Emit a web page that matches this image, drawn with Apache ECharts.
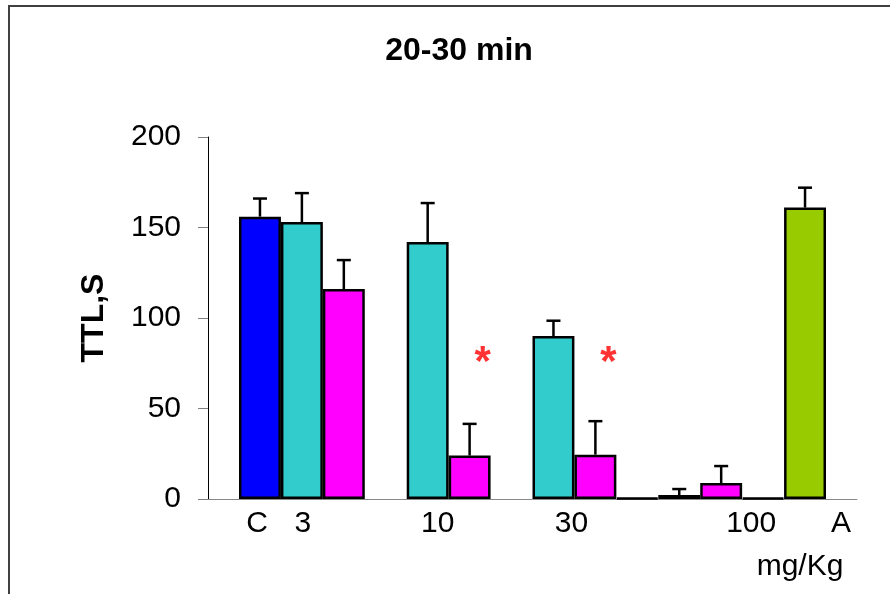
<!DOCTYPE html>
<html>
<head>
<meta charset="utf-8">
<script src="https://cdn.jsdelivr.net/npm/echarts@6/dist/echarts.min.js"></script>
<style>
  html, body { margin: 0; padding: 0; background: #fff; }
  #main { width: 890px; height: 594px; }
</style>
</head>
<body>
<div id="main"></div>
<script>
// 14 bar slots, left to right (empty slots are gaps between dose groups)
const slotGroups = ['control', 'low', 'high', '', 'low', 'high', '', 'low', 'high', 'zero', 'low', 'high', 'zero', 'ref'];
const slotLabels = ['C', '3', '', '', '10', '', '', '30', '', '', '', '100', '', 'A'];
const means = [156, 153, 116, null, 142, 24, null, 90, 24.5, 0.6, 2.2, 8.8, 0.6, 161];
const errors = [10, 16, 16, null, 21.5, 17.5, null, 8.5, 18.5, null, 3.3, 9.4, null, 11];
// significance marks (slot index), value height of the asterisk
const starSlots = [5, 8];
const starValue = 78;
const yTicks = [0, 50, 100, 150, 200];

const groupColors = {
  control: '#0000FF',
  low: '#33CCCC',
  high: '#FF00FF',
  zero: '#000000',
  ref: '#99CC00'
};
// label shift (px) so the dose names sit where the original has them
const labelShift = { 'C': -3, '3': 1, '10': 10, '30': 18, '100': 30, 'A': 36 };

const FONT = 'Liberation Sans, Arial, sans-serif';
const chart = echarts.init(document.getElementById('main'));

// label rich styles: padding on one side shifts centered text
const rich = {};
slotLabels.forEach((l, i) => {
  if (!l) return;
  const s = labelShift[l] || 0;
  rich['l' + i] = {
    fontSize: 30, fontFamily: FONT, color: '#000',
    padding: s >= 0 ? [0, 0, 0, 2 * s] : [0, -2 * s, 0, 0]
  };
});

const barData = means.map((v, i) => ({
  value: v,
  itemStyle: { color: groupColors[slotGroups[i]] || '#fff' }
}));

const errData = [];
means.forEach((v, i) => {
  if (v != null && errors[i] != null) errData.push([i, v, v + errors[i]]);
});

const option = {
  animation: false,
  backgroundColor: '#fff',
  textStyle: { fontFamily: FONT },
  title: {
    text: '20-30 min',
    left: 454,
    top: 30,
    textAlign: 'center',
    textStyle: { fontSize: 32, fontWeight: 'bold', color: '#000', fontFamily: FONT }
  },
  grid: [
    { left: 208, right: 33, top: 137, bottom: 95 },
    { left: 239, right: 64, top: 137, bottom: 95 }
  ],
  xAxis: [
    {
      gridIndex: 0, type: 'value', min: 0, max: 1,
      axisLine: { lineStyle: { color: '#888', width: 1 } },
      axisTick: { show: false }, axisLabel: { show: false }, splitLine: { show: false }
    },
    {
      gridIndex: 1, type: 'category', data: slotLabels.map((l, i) => 's' + i),
      boundaryGap: true,
      axisLine: { show: false }, axisTick: { show: false },
      axisLabel: {
        interval: 0, margin: 10,
        formatter: (val, i) => slotLabels[i] ? '{l' + i + '|' + slotLabels[i] + '}' : '',
        rich: rich
      }
    }
  ],
  yAxis: [
    {
      gridIndex: 0, type: 'value', min: 0, max: 200, interval: 50,
      name: 'TTL,S', nameLocation: 'middle', nameGap: 98,
      nameTextStyle: { fontSize: 32, fontWeight: 'bold', color: '#000', fontFamily: FONT },
      axisLine: { show: true, lineStyle: { color: '#000', width: 1 } },
      axisTick: { show: true, length: 10, lineStyle: { color: '#808080' } },
      axisLabel: { fontSize: 30, color: '#000', margin: 27, fontFamily: FONT,
        formatter: v => yTicks.indexOf(v) >= 0 ? String(v) : '' },
      splitLine: { show: false }
    },
    {
      gridIndex: 1, type: 'value', min: 0, max: 200,
      axisLine: { show: false }, axisTick: { show: false }, axisLabel: { show: false },
      splitLine: { show: false }
    }
  ],
  series: [
    {
      type: 'bar', xAxisIndex: 1, yAxisIndex: 1,
      barCategoryGap: 0, barGap: '-100%',
      data: barData,
      itemStyle: { borderColor: '#000', borderWidth: 2.5 },
      z: 3
    },
    {
      type: 'custom', xAxisIndex: 1, yAxisIndex: 1, z: 2,
      data: errData,
      renderItem: (params, api) => {
        const base = api.coord([api.value(0), api.value(1)]);
        const top = api.coord([api.value(0), api.value(2)]);
        const cap = 7;
        return {
          type: 'group',
          children: [
            { type: 'line', shape: { x1: base[0], y1: base[1], x2: top[0], y2: top[1] },
              style: { stroke: '#000', lineWidth: 2.5 } },
            { type: 'line', shape: { x1: top[0] - cap, y1: top[1], x2: top[0] + cap, y2: top[1] },
              style: { stroke: '#000', lineWidth: 2.5 } }
          ]
        };
      }
    },
    {
      type: 'scatter', xAxisIndex: 1, yAxisIndex: 1,
      symbolSize: 0,
      data: starSlots.map(i => [i, starValue]),
      label: {
        show: true, formatter: '*', position: 'inside', offset: [13, 6],
        color: '#FF0000', fontSize: 42, fontWeight: 'bold', fontFamily: FONT
      }
    }
  ],
  graphic: [
    { type: 'rect', shape: { x: 9, y: 6, width: 900, height: 600 },
      style: { fill: 'none', stroke: '#404040', lineWidth: 2 }, silent: true },
    { type: 'text', x: 800, y: 567,
      style: { text: 'mg/Kg', fontSize: 30, fontFamily: FONT, fill: '#000',
        textAlign: 'center', textVerticalAlign: 'middle' } }
  ]
};

chart.setOption(option);
</script>
</body>
</html>
